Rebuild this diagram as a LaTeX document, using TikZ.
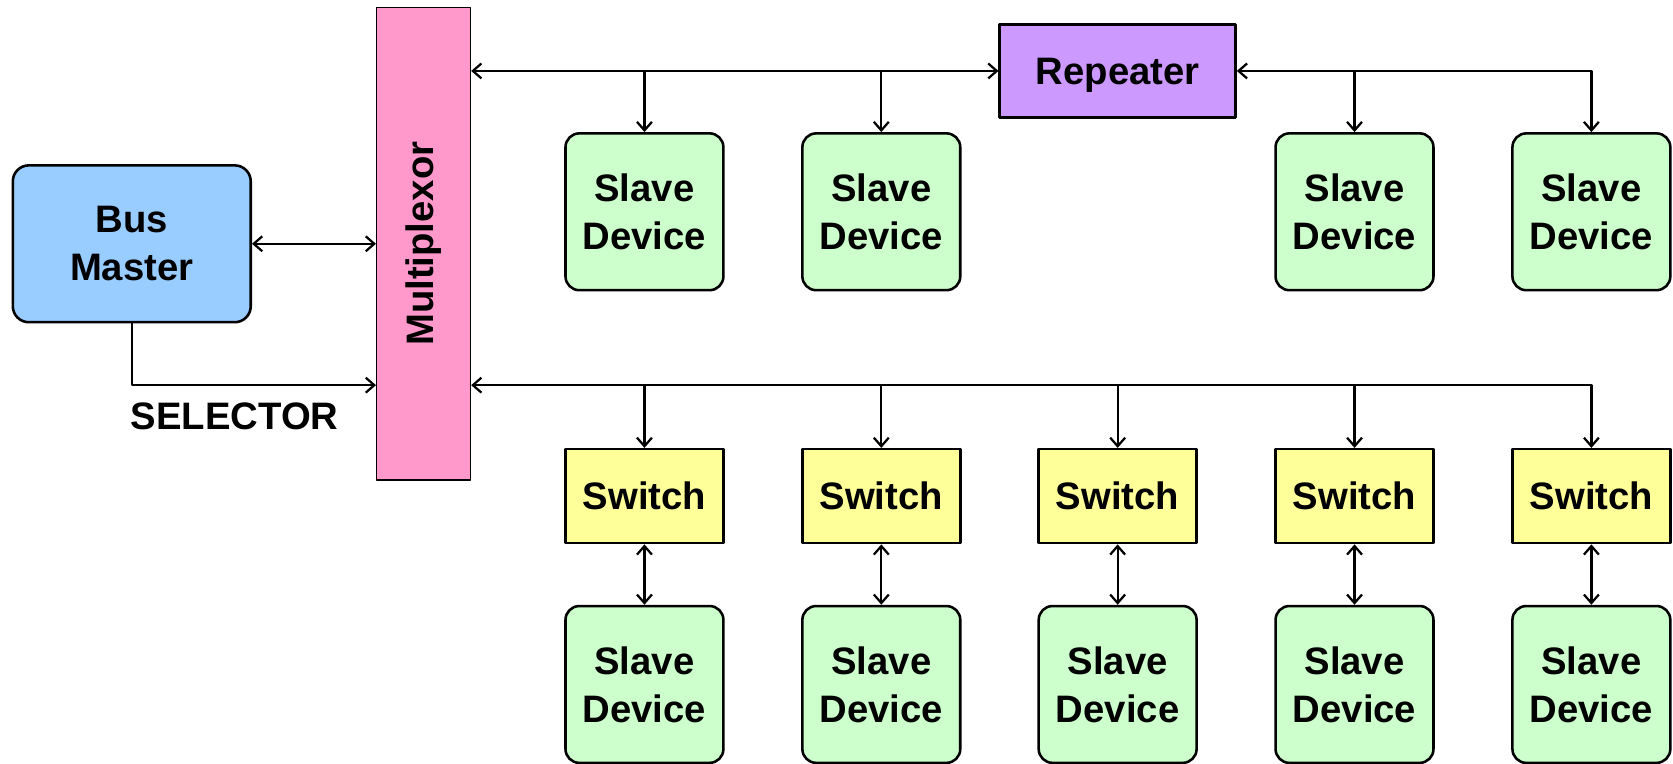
\documentclass[tikz,border=0pt]{standalone}
\usepackage{graphicx}
\usepackage{fontspec}
\setmainfont{Liberation Sans}
\usetikzlibrary{arrows.meta}
\definecolor{masterblue}{HTML}{99CCFF}
\definecolor{muxpink}{HTML}{FF99CC}
\definecolor{reppurple}{HTML}{CC99FF}
\definecolor{slavegreen}{HTML}{CCFFCC}
\definecolor{switchyellow}{HTML}{FFFF99}

\begin{document}
\begin{tikzpicture}[>={Straight Barb[length=4bp,width=7bp]},line width=1.05bp,line join=bevel,
  box/.style={draw,line width=1.2bp,inner sep=0pt,align=center,font=\fontsize{18}{22.5}\selectfont\bfseries},
  master/.style={box,rounded corners=7.5bp,fill=masterblue,minimum width=111.5bp,minimum height=73.5bp},
  muxbox/.style={box,line width=0.6bp,fill=muxpink,minimum width=44bp,minimum height=221.5bp},
  repbox/.style={box,fill=reppurple,minimum width=110.5bp,minimum height=43.5bp,text depth=0pt},
  slave/.style={box,rounded corners=6.5bp,fill=slavegreen,minimum width=74bp,minimum height=73.5bp},
  switchbox/.style={box,fill=switchyellow,minimum width=74bp,minimum height=44bp},
]
\useasboundingbox (0,0) rectangle (784bp,358bp);
%%
\node (bm) at (61.75bp,243.75bp) [master] {Bus\\Master};
\node (mux) at (198.5bp,243.75bp) [muxbox] {\rotatebox{90}{Multiplexor}};
\node (rep) at (523.75bp,324.75bp) [repbox] {Repeater};
\node (s1) at (302bp,258.75bp) [slave] {Slave\\Device};
\node (s2) at (413bp,258.75bp) [slave] {Slave\\Device};
\node (s3) at (634.75bp,258.75bp) [slave] {Slave\\Device};
\node (s4) at (745.75bp,258.75bp) [slave] {Slave\\Device};
\node (w1) at (302bp,125.5bp) [switchbox] {Switch};
\node (w2) at (413bp,125.5bp) [switchbox] {Switch};
\node (w3) at (523.75bp,125.5bp) [switchbox] {Switch};
\node (w4) at (634.75bp,125.5bp) [switchbox] {Switch};
\node (w5) at (745.75bp,125.5bp) [switchbox] {Switch};
\node (d1) at (302bp,37.25bp) [slave] {Slave\\Device};
\node (d2) at (413bp,37.25bp) [slave] {Slave\\Device};
\node (d3) at (523.75bp,37.25bp) [slave] {Slave\\Device};
\node (d4) at (634.75bp,37.25bp) [slave] {Slave\\Device};
\node (d5) at (745.75bp,37.25bp) [slave] {Slave\\Device};
\node (sellabel) at (110bp,163bp) [font=\fontsize{18}{22.5}\selectfont\bfseries] {SELECTOR};
\coordinate (selin) at ([yshift=-66.25bp]mux.west);
\coordinate (busin) at ([yshift=-66.25bp]mux.east);
%% master side
\draw [<->] (bm.east) -- (bm.east -| mux.west);
\draw [->] (bm.south) |- (selin);
%% upper bus
\draw [<->] (rep.west) -- (rep.west -| mux.east);
\draw [->] (rep.west -| s1.north) -- (s1.north);
\draw [->] (rep.west -| s2.north) -- (s2.north);
\draw [<->] (rep.east) -| (s4.north);
\draw [->] (rep.east -| s3.north) -- (s3.north);
%% lower bus
\draw [<->] (busin) -| (w5.north);
\draw [->] (busin -| w1.north) -- (w1.north);
\draw [->] (busin -| w2.north) -- (w2.north);
\draw [->] (busin -| w3.north) -- (w3.north);
\draw [->] (busin -| w4.north) -- (w4.north);
\draw [<->] (w1.south) -- (d1.north);
\draw [<->] (w2.south) -- (d2.north);
\draw [<->] (w3.south) -- (d3.north);
\draw [<->] (w4.south) -- (d4.north);
\draw [<->] (w5.south) -- (d5.north);
%
\end{tikzpicture}
\end{document}
